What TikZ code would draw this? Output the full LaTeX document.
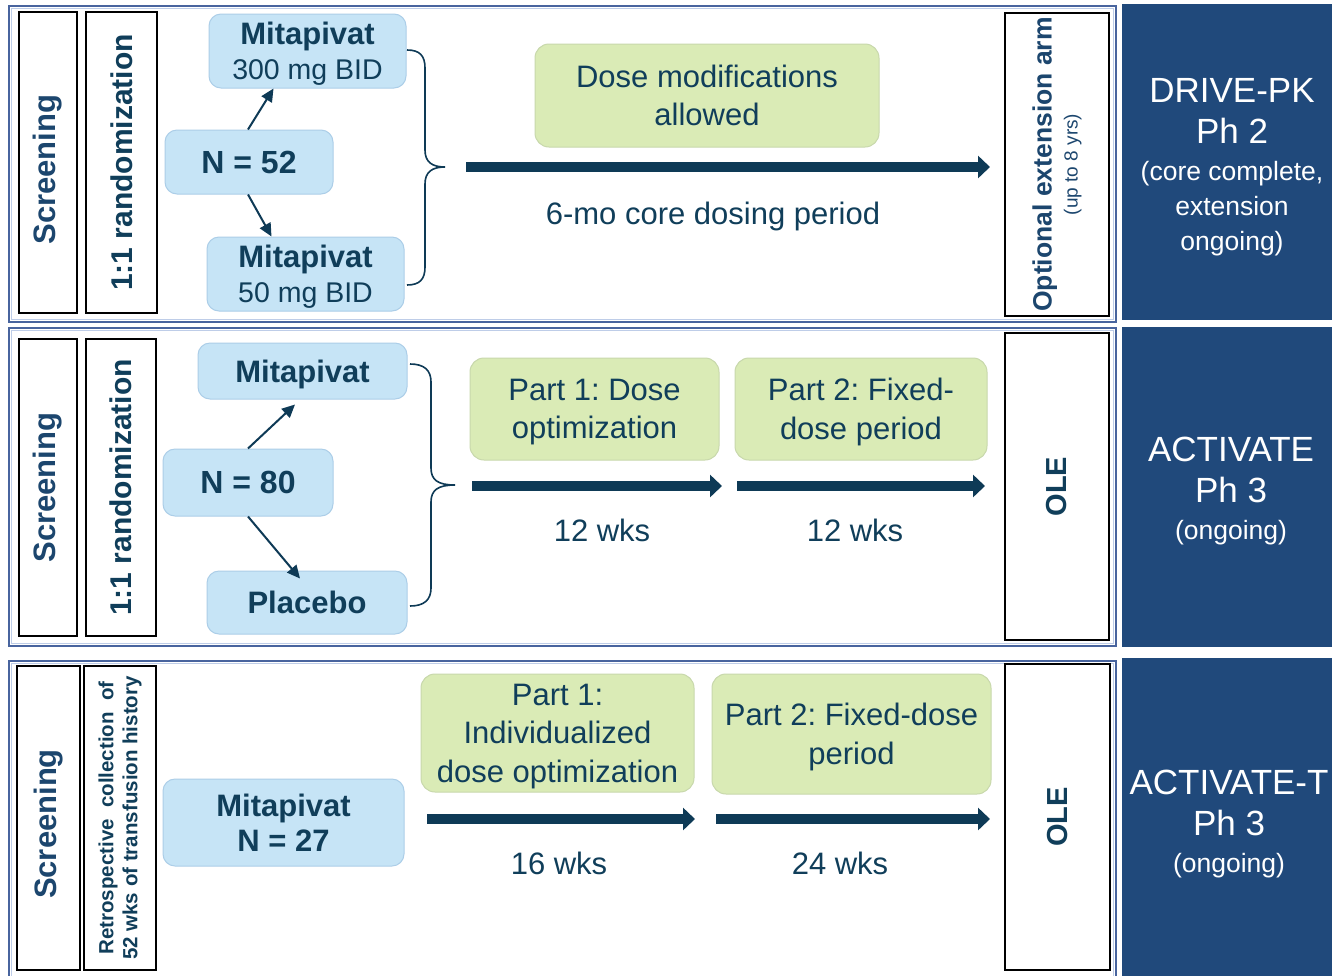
\documentclass[tikz,border=0pt]{standalone}
\usepackage{fontspec}
\setmainfont{Liberation Sans}
\usetikzlibrary{arrows.meta}
\definecolor{txt}{RGB}{16,62,90}
\definecolor{scrtxt}{RGB}{28,70,110}
\definecolor{lblue}{RGB}{198,228,246}
\definecolor{lblueb}{RGB}{172,206,232}
\definecolor{lgreen}{RGB}{218,235,182}
\definecolor{lgreenb}{RGB}{200,216,172}
\definecolor{navy}{RGB}{32,73,123}
\definecolor{frameblue}{RGB}{72,100,158}
\definecolor{frameinner}{RGB}{190,205,232}
\definecolor{arrowc}{RGB}{14,58,86}
\newcommand\dpbig{\fontsize{35}{42}\selectfont}
\newcommand\dpsmall{\fontsize{26.5}{35}\selectfont}
\frenchspacing
\tikzset{
  vbox/.style={draw=black, line width=2pt, inner sep=0pt, rotate=90, text=scrtxt, align=center},
  bluebox/.style={rounded corners=12pt, fill=lblue, draw=lblueb, line width=1pt, text=txt, align=center, inner sep=0pt, text depth=0pt},
  greenbox/.style={rounded corners=14pt, fill=lgreen, draw=lgreenb, line width=1pt, text=txt, align=center, inner sep=0pt, text depth=0pt, font={\fontsize{31}{38.5}\selectfont}},
  darkpanel/.style={fill=navy, draw=none, text=white, align=center, inner sep=0pt},
  paneltext/.style={text=white, align=center, inner sep=0pt, font=\dpsmall},
  framebox/.style={draw=frameblue, line width=2.2pt},
  frameinnerbox/.style={draw=frameinner, line width=1pt},
  bigarrow/.style={draw=arrowc, line width=10pt, -{Triangle[length=12pt,width=22pt]}},
  smallarrow/.style={draw=arrowc, line width=2pt, -{Triangle[length=13pt,width=12pt]}},
  bracepath/.style={draw=arrowc, line width=1.6pt},
  lbl/.style={text=txt, font={\fontsize{31}{36}\selectfont}, inner sep=0pt, text depth=0pt}
}
\begin{document}
\begin{tikzpicture}[x=1pt,y=-1pt]
\useasboundingbox (0,0) rectangle (1332,975);
\fill[white] (0,0) rectangle (1332,975);

% frames
\draw[framebox] (9,6) rectangle (1116,322);
\draw[frameinnerbox] (11.5,8.5) rectangle (1113.5,319.5);
\draw[framebox] (9,328) rectangle (1116,646);
\draw[frameinnerbox] (11.5,330.5) rectangle (1113.5,643.5);
\draw[framebox] (9,661) rectangle (1116,1000);
\draw[frameinnerbox] (11.5,663.5) rectangle (1113.5,1000);

% dark panels
\node[darkpanel, minimum width=210pt, minimum height=316pt] (dp1) at (1227,162) {};
\node[paneltext] (dt1) at (1232,167) {{\dpbig DRIVE-PK}\\[6pt]{\dpbig Ph 2}\\[2pt]{\dpsmall (core complete,}\\{\dpsmall extension}\\{\dpsmall ongoing)}};
\node[darkpanel, minimum width=210pt, minimum height=320pt] (dp2) at (1227,487) {};
\node[paneltext] (dt2) at (1231,491) {{\dpbig ACTIVATE}\\[6pt]{\dpbig Ph 3}\\[2pt]{\dpsmall (ongoing)}};
\node[darkpanel, minimum width=210pt, minimum height=330pt] (dp3) at (1227,823) {};
\node[paneltext] (dt3) at (1229,824.5) {{\dpbig ACTIVATE-T}\\[6pt]{\dpbig Ph 3}\\[2pt]{\dpsmall (ongoing)}};

% ---------- Panel 1 ----------
\node[vbox, minimum width=301pt, minimum height=58pt, font={\fontsize{31}{36}\bfseries\selectfont}] (scr1) at (48,162.5) {Screening\hspace*{14pt}};
\node[vbox, minimum width=301pt, minimum height=71pt, text=txt, font={\fontsize{30}{36}\bfseries\selectfont}] (rnd1) at (121.5,162.5) {1:1 randomization};
\node[bluebox, minimum width=197pt, minimum height=74pt, font={\fontsize{31}{35}\selectfont}] (m300) at (307.5,51) {\textbf{Mitapivat}\\{\fontsize{28.5}{35}\selectfont 300 mg BID}};
\node[bluebox, minimum width=168pt, minimum height=64pt, font={\fontsize{32}{36}\bfseries\selectfont}] (n52) at (249,162) {N = 52};
\node[bluebox, minimum width=197pt, minimum height=74pt, font={\fontsize{31}{35}\selectfont}] (m50) at (305.5,274) {\textbf{Mitapivat}\\{\fontsize{28.5}{35}\selectfont 50 mg BID}};
\draw[smallarrow] ([xshift=-1pt]n52.north) -- ([xshift=-34pt]m300.south);
\draw[smallarrow] ([xshift=-1pt]n52.south) -- ([xshift=-34pt]m50.north);
\draw[bracepath] (407,50) .. controls (420,50) and (425,56) .. (425,68) -- (425,150) .. controls (425,162) and (432,167) .. (445,167) .. controls (432,167) and (425,172) .. (425,184) -- (425,267) .. controls (425,279) and (420,285) .. (407,285);
\node[greenbox, minimum width=344pt, minimum height=103pt] (dm) at (707,95.5) {Dose modifications\\allowed};
\node[vbox, minimum width=303pt, minimum height=104pt, text=scrtxt, font={\fontsize{26.5}{30}\bfseries\selectfont}] (ext1) at (1057,164.5) {Optional extension arm\\[-4pt]{\fontsize{19}{22}\mdseries\selectfont (up to 8 yrs)}};
\coordinate (a1s) at (466,167);
\coordinate (a1e) at (990,167);
\draw[bigarrow] (a1s) -- (a1e);
\node[lbl] (per1) at (713,213) {6-mo core dosing period};

% ---------- Panel 2 ----------
\node[vbox, minimum width=297pt, minimum height=58pt, font={\fontsize{31}{36}\bfseries\selectfont}] (scr2) at (48,487.5) {Screening};
\node[vbox, minimum width=297pt, minimum height=70pt, text=txt, font={\fontsize{30}{36}\bfseries\selectfont}] (rnd2) at (121,487.5) {1:1 randomization};
\node[bluebox, minimum width=209pt, minimum height=56pt, font={\fontsize{31}{35}\bfseries\selectfont}] (mit2) at (302.5,371) {Mitapivat};
\node[bluebox, minimum width=170pt, minimum height=67pt, font={\fontsize{32}{36}\bfseries\selectfont}] (n80) at (248,482.5) {N = 80};
\node[bluebox, minimum width=200pt, minimum height=63pt, font={\fontsize{31}{35}\bfseries\selectfont}] (plac) at (307,602.5) {Placebo};
\draw[smallarrow] (n80.north) -- ([xshift=-7.5pt,yshift=-5pt]mit2.south);
\draw[smallarrow] (n80.south) -- ([xshift=-7pt,yshift=-8pt]plac.north);
\draw[bracepath] (410,364) .. controls (424,364) and (431,370) .. (431,382) -- (431,468) .. controls (431,480) and (438,485) .. (455,485) .. controls (438,485) and (431,490) .. (431,502) -- (431,588) .. controls (431,600) and (424,606) .. (410,606);
\node[greenbox, minimum width=249pt, minimum height=102pt] (p21) at (594.5,409) {Part 1: Dose\\optimization};
\node[greenbox, minimum width=252pt, minimum height=102pt] (p22) at (861,409) {Part 2: Fixed-\\dose period};
\node[vbox, minimum width=307pt, minimum height=104pt, text=txt, font={\fontsize{29}{34}\bfseries\selectfont}] (ole2) at (1057,486.5) {OLE};
\coordinate (a21s) at (472,486);
\coordinate (a21e) at (722,486);
\coordinate (a22s) at (737,486);
\coordinate (a22e) at (985,486);
\draw[bigarrow] (a21s) -- (a21e);
\draw[bigarrow] (a22s) -- (a22e);
\node[lbl] (w21) at (602,530) {12 wks};
\node[lbl] (w22) at (855,530) {12 wks};

% ---------- Panel 3 ----------
\node[vbox, minimum width=304pt, minimum height=63pt, font={\fontsize{31}{36}\bfseries\selectfont}] (scr3) at (48.5,818) {Screening\hspace*{12pt}};
\node[vbox, minimum width=304pt, minimum height=72pt, text=txt, font={\fontsize{20.5}{24}\bfseries\selectfont}] (retro) at (120,818) {Retrospective\ \ collection\ \ of\\52 wks of transfusion history};
\node[bluebox, minimum width=241pt, minimum height=87pt, font={\fontsize{31}{35}\bfseries\selectfont}] (m27) at (283.5,822.5) {Mitapivat\\N = 27};
\node[greenbox, minimum width=273pt, minimum height=118pt] (p31) at (557.5,733) {Part 1:\\Individualized\\dose optimization};
\node[greenbox, minimum width=279pt, minimum height=120pt] (p32) at (851.5,734) {Part 2: Fixed-dose\\period};
\node[vbox, minimum width=306pt, minimum height=105pt, text=txt, font={\fontsize{29}{34}\bfseries\selectfont}] (ole3) at (1057.5,817) {OLE};
\coordinate (a31s) at (427,819);
\coordinate (a31e) at (695,819);
\coordinate (a32s) at (716,819);
\coordinate (a32e) at (990,819);
\draw[bigarrow] (a31s) -- (a31e);
\draw[bigarrow] (a32s) -- (a32e);
\node[lbl] (w31) at (559,863) {16 wks};
\node[lbl] (w32) at (840,863) {24 wks};
\end{tikzpicture}
\end{document}
